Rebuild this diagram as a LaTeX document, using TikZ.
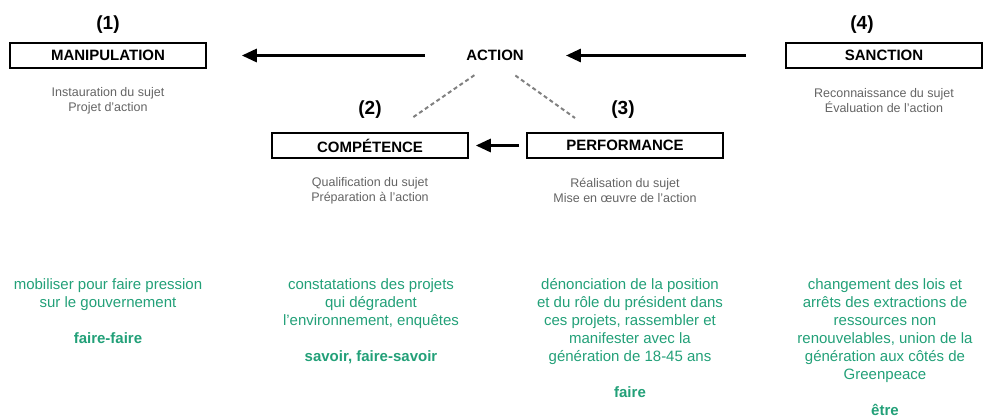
\documentclass[tikz,border=0pt]{standalone}
\usepackage{fontspec}
\setmainfont{Liberation Sans}
\usetikzlibrary{positioning, arrows.meta}
\definecolor{vertgp}{RGB}{34,160,120}
\definecolor{gristxt}{RGB}{100,100,100}

\begin{document}
\begin{tikzpicture}[x=1pt,y=-1pt,on grid,
    boite/.style={draw,line width=1.6pt,minimum width=196pt,minimum height=25pt,inner sep=0pt,font=\fontsize{15}{18}\selectfont\bfseries},
    num/.style={font=\fontsize{19}{22}\selectfont\bfseries},
    sous/.style={align=center,text=gristxt,font=\fontsize{12.5}{15.2}\selectfont},
    vert/.style={align=center,text=vertgp,anchor=north,font=\fontsize{15}{18}\selectfont},
    fleche/.style={-{Triangle[length=15pt,width=13pt]},line width=3pt},
    tirets/.style={draw=gray,line width=2pt,dash pattern=on 4pt off 3pt}]
  \useasboundingbox (0,0) rectangle (983,418);

  \node[boite] (manip) at (108,55.5) {MANIPULATION};
  \node[boite] (sanct) at (884,55.5) {SANCTION};
  \node[inner sep=0pt,font=\fontsize{15}{18}\selectfont\bfseries] (action) at (495,55.5) {ACTION};
  \node[boite] (comp) at (370,145.5) {COMPÉTENCE};
  \node[boite] (perf) at (625,145.5) {PERFORMANCE};

  \node[num, above=31pt of manip] (n_1) {(1)};
  \node[num, above=36pt of comp] (n_2) {(2)};
  \node[num, above=36pt of perf, xshift=-2pt] (n_3) {(3)};
  \node[num, above=31pt of sanct, xshift=-22pt] (n_4) {(4)};

  \node[sous, below=45pt of manip] (manip_t) {Instauration du sujet\\Projet d'action};
  \node[sous, below=45pt of comp] (comp_t) {Qualification du sujet\\Préparation à l'action};
  \node[sous, below=45pt of perf] (perf_t) {Réalisation du sujet\\Mise en œuvre de l'action};
  \node[sous, below=45pt of sanct] (sanct_t) {Reconnaissance du sujet\\Évaluation de l'action};

  \path
    (action) edge[fleche, shorten <=41pt, shorten >=35pt] (manip)
    (sanct) edge[fleche, shorten <=39pt, shorten >=42pt] (action)
    (perf) edge[fleche, shorten <=7pt, shorten >=7pt] (comp);

  \coordinate (d_g) at (412,118);
  \coordinate (d_d) at (575,118);
  \draw[tirets, shorten <=25pt] (action.south) -- (d_g);
  \draw[tirets, shorten <=25pt] (action.south) -- (d_d);

  % exemples (texte vert)
  \node[vert] (v_1) at (108,275) {mobiliser pour faire pression\\sur le gouvernement\\[18pt]\textbf{faire-faire}};
  \node[vert] (v_2) at (371,275) {constatations des projets\\qui dégradent\\l'environnement, enquêtes\\[18pt]\textbf{savoir, faire-savoir}};
  \node[vert] (v_3) at (630,275) {dénonciation de la position\\et du rôle du président dans\\ces projets, rassembler et\\manifester avec la\\génération de 18-45 ans\\[18pt]\textbf{faire}};
  \node[vert] (v_4) at (885,275) {changement des lois et\\arrêts des extractions de\\ressources non\\renouvelables, union de la\\génération aux côtés de\\Greenpeace\\[18pt]\textbf{être}};
\end{tikzpicture}
\end{document}
